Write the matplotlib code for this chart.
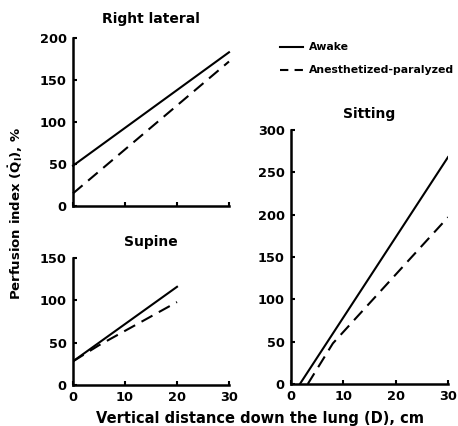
import numpy as np
import matplotlib.pyplot as plt

plt.rcParams['font.family'] = ['DejaVu Sans']
plt.rcParams['font.weight'] = 'bold'
plt.rcParams['mathtext.default'] = 'bf'

# data (x = distance in cm, y = perfusion index %)
lat_x = [0, 30]
lat_awake = [48, 183]
lat_anes = [15, 172]

sup_x = [0, 20]
sup_awake = [28, 116]
sup_anes_x = [0, 5, 20]
sup_anes = [28, 47, 98]

sit_awake_x = [1.7, 30]
sit_awake = [0, 268]
sit_anes_x = [3.2, 8, 30]
sit_anes = [0, 48, 197]

xticks = [0, 10, 20, 30]

fig = plt.figure(figsize=(4.58, 4.26), dpi=100)

def style(ax, ymax, ystep):
    ax.set_xlim(0, 30)
    ax.set_ylim(0, ymax)
    ax.set_xticks(xticks)
    ax.set_yticks(np.arange(0, ymax + 1, ystep))
    for s in ['top', 'right']:
        ax.spines[s].set_visible(False)
    for s in ['left', 'bottom']:
        ax.spines[s].set_linewidth(1.8)
    ax.tick_params(direction='in', length=3, width=1.5, labelsize=9.3, pad=4.5)
    for t in ax.get_xticklabels() + ax.get_yticklabels():
        t.set_fontweight('bold')

dash = (0, (6, 3.5))

ax1 = fig.add_axes([0.1594, 0.5164, 0.3406, 0.3944])
ax1.plot(lat_x, lat_awake, 'k-', lw=1.5, clip_on=False)
ax1.plot(lat_x, lat_anes, 'k', ls=dash, lw=1.5, clip_on=False)
style(ax1, 200, 50)
ax1.set_xticklabels([])
ax1.set_title('Right lateral', fontsize=10, fontweight='bold', pad=11)

ax2 = fig.add_axes([0.1594, 0.0962, 0.3406, 0.2981])
ax2.plot(sup_x, sup_awake, 'k-', lw=1.5)
ax2.plot(sup_anes_x, sup_anes, 'k', ls=dash, lw=1.5)
style(ax2, 150, 50)
ax2.set_title('Supine', fontsize=10, fontweight='bold', pad=9)

ax3 = fig.add_axes([0.6354, 0.0986, 0.3428, 0.5962])
ax3.plot(sit_awake_x, sit_awake, 'k-', lw=1.5)
ax3.plot(sit_anes_x, sit_anes, 'k', ls=dash, lw=1.5)
style(ax3, 300, 50)
ax3.set_title('Sitting', fontsize=10, fontweight='bold', pad=9)

# legend drawn by hand in figure coords
fig.lines.append(plt.Line2D([0.611, 0.662], [1 - 47 / 426] * 2, color='k', lw=1.5,
                            transform=fig.transFigure))
fig.lines.append(plt.Line2D([0.611, 0.662], [1 - 70 / 426] * 2, color='k', lw=1.5,
                            ls=(0, (4, 3)), transform=fig.transFigure))
fig.text(0.675, 1 - 47 / 426, 'Awake', fontsize=7.8, fontweight='bold', va='center')
fig.text(0.675, 1 - 70 / 426, 'Anesthetized-paralyzed', fontsize=7.8, fontweight='bold', va='center')

fig.text(0.034, 0.5, r'Perfusion index ($\dot{Q}_I$), %', rotation=90,
         fontsize=9.5, fontweight='bold', va='center', ha='center')
fig.text(0.568, 1 - 419 / 426, 'Vertical distance down the lung (D), cm',
         fontsize=10.5, fontweight='bold', va='center', ha='center')

fig.savefig('out.png', dpi=100)
